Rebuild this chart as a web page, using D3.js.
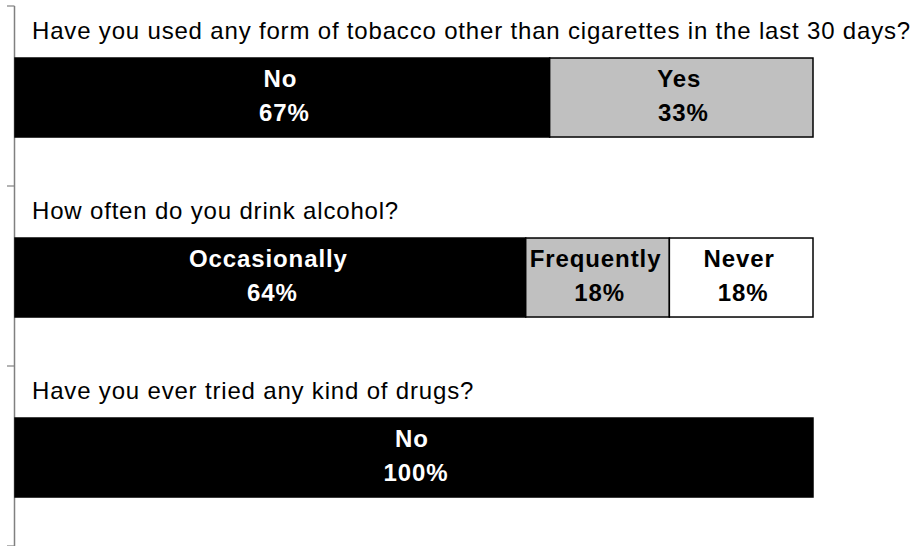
<!DOCTYPE html>
<html>
<head>
<meta charset="utf-8">
<script src="https://cdn.jsdelivr.net/npm/d3@7"></script>
<style>
  html, body { margin: 0; padding: 0; background: #fff; }
  svg { display: block; }
</style>
</head>
<body>
<svg id="chart" width="919" height="546"></svg>
<script>
// ---- data ----
const questions = [
  "Have you used any form of tobacco other than cigarettes in the last 30 days?",
  "How often do you drink alcohol?",
  "Have you ever tried any kind of drugs?"
];
const tobaccoLabels = ["No", "Yes"];
const tobaccoValues = [67, 33];
const alcoholLabels = ["Occasionally", "Frequently", "Never"];
const alcoholValues = [64, 18, 18];
const drugsLabels = ["No"];
const drugsValues = [100];

const answerLabels = [tobaccoLabels, alcoholLabels, drugsLabels];
const answerValues = [tobaccoValues, alcoholValues, drugsValues];

// ---- styles ----
const fillByIndex = ["#000000", "#C0C0C0", "#FFFFFF"];
const textByIndex = ["#FFFFFF", "#000000", "#000000"];
const fontFamily = "'Liberation Sans', Arial, Helvetica, sans-serif";

const svg = d3.select("#chart");

const x = d3.scaleLinear().domain([0, 100]).range([15, 813]);
const y = d3.scaleBand()
  .domain(d3.range(questions.length))
  .range([6, 546])
  .paddingInner(101 / 180)
  .paddingOuter(101 / 360)
  .align(0.515);

// axis (left, category axis with ticks between categories)
const axisX = 14.5;
const yEdges = d3.scaleLinear().domain([0, questions.length]).range([6, 546]);
svg.append("line")
  .attr("x1", axisX).attr("x2", axisX)
  .attr("y1", yEdges(0)).attr("y2", yEdges(questions.length))
  .attr("stroke", "#808080").attr("stroke-width", 1.5);
svg.selectAll("line.tick")
  .data(d3.range(questions.length + 1))
  .join("line")
  .attr("class", "tick")
  .attr("x1", 7).attr("x2", axisX)
  .attr("y1", d => yEdges(d)).attr("y2", d => yEdges(d))
  .attr("stroke", "#808080").attr("stroke-width", 1.2);

// build segments
const segments = [];
answerValues.forEach((vals, qi) => {
  let cum = 0;
  vals.forEach((v, i) => {
    segments.push({ q: qi, i, label: answerLabels[qi][i], value: v, x0: cum, x1: cum + v });
    cum += v;
  });
});

const bh = y.bandwidth();

// question titles
const qText = svg.selectAll("text.question")
  .data(questions)
  .join("text")
  .attr("class", "question")
  .attr("x", 32)
  .attr("y", (d, i) => y(i) - 19)
  .attr("font-family", fontFamily)
  .attr("font-size", 24)
  .attr("fill", "#000")
  .text(d => d);

// fit letter spacing so the longest title spans the same width as in the reference
const firstNode = qText.nodes()[0];
const w0 = firstNode.getComputedTextLength();
const targetW = 879;
const spacing = Math.max(0, (targetW - w0) / questions[0].length);
qText.attr("letter-spacing", spacing);

// bars
svg.selectAll("rect.seg")
  .data(segments)
  .join("rect")
  .attr("class", "seg")
  .attr("x", d => x(d.x0))
  .attr("y", d => y(d.q))
  .attr("width", d => x(d.x1) - x(d.x0))
  .attr("height", bh)
  .attr("fill", d => fillByIndex[d.i])
  .attr("stroke", "#000")
  .attr("stroke-width", 1.5);

// labels
const lab = svg.selectAll("g.lab")
  .data(segments)
  .join("g")
  .attr("class", "lab")
  .attr("transform", d => `translate(${(x(d.x0) + x(d.x1)) / 2},${y(d.q) + bh / 2})`);

lab.append("text")
  .attr("text-anchor", "middle")
  .attr("x", -2)
  .attr("y", -10.5)
  .attr("font-family", fontFamily)
  .attr("font-weight", "bold")
  .attr("font-size", 24)
  .attr("letter-spacing", 0.9)
  .attr("fill", d => textByIndex[d.i])
  .text(d => d.label);

lab.append("text")
  .attr("text-anchor", "middle")
  .attr("x", 2)
  .attr("y", 23.5)
  .attr("font-family", fontFamily)
  .attr("font-weight", "bold")
  .attr("font-size", 24)
  .attr("letter-spacing", 0.9)
  .attr("fill", d => textByIndex[d.i])
  .text(d => d.value + "%");
</script>
</body>
</html>
